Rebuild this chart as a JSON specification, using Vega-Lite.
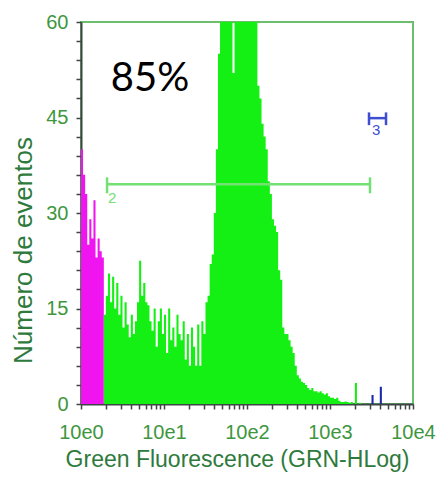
{
  "$schema": "https://vega.github.io/schema/vega-lite/v6.json",
  "width": 332,
  "height": 382,
  "autosize": {"type": "none"},
  "padding": {"left": 81, "top": 22, "right": 25, "bottom": 73},
  "background": "white",
  "config": {
    "view": {"stroke": "#6cbf6c", "strokeWidth": 2},
    "axis": {
      "domain": true,
      "ticks": true,
      "domainColor": "#3f4545",
      "domainWidth": 2,
      "tickColor": "#3f4545",
      "tickWidth": 1.5,
      "tickSize": 5,
      "grid": false,
      "labelFont": "Liberation Sans",
      "labelFontSize": 20,
      "labelColor": "#3e963e",
      "titleFont": "Liberation Sans",
      "titleFontWeight": "normal",
      "titleColor": "#2d7a3c"
    }
  },
  "datasets": {
    "hist": [
      {"x": 1, "n": 40, "g": "M"}, {"x": 1.059, "n": 36, "g": "M"}, {"x": 1.122, "n": 33, "g": "M"}, {"x": 1.189, "n": 25, "g": "M"},
      {"x": 1.259, "n": 29, "g": "M"}, {"x": 1.334, "n": 26, "g": "M"}, {"x": 1.413, "n": 32, "g": "M"}, {"x": 1.496, "n": 23, "g": "M"},
      {"x": 1.585, "n": 26, "g": "M"}, {"x": 1.679, "n": 24, "g": "M"}, {"x": 1.778, "n": 23, "g": "M"}, {"x": 1.884, "n": 0, "g": "M"},
      {"x": 1.884, "n": 14, "g": "G"}, {"x": 1.995, "n": 17, "g": "G"}, {"x": 2.113, "n": 20.5, "g": "G"}, {"x": 2.239, "n": 16, "g": "G"},
      {"x": 2.371, "n": 20, "g": "G"}, {"x": 2.512, "n": 15, "g": "G"}, {"x": 2.661, "n": 19, "g": "G"}, {"x": 2.818, "n": 14, "g": "G"},
      {"x": 2.985, "n": 17, "g": "G"}, {"x": 3.162, "n": 12, "g": "G"}, {"x": 3.35, "n": 16, "g": "G"}, {"x": 3.548, "n": 12.5, "g": "G"},
      {"x": 3.758, "n": 10.5, "g": "G"}, {"x": 3.981, "n": 14, "g": "G"}, {"x": 4.217, "n": 11, "g": "G"}, {"x": 4.467, "n": 13, "g": "G"},
      {"x": 4.732, "n": 16, "g": "G"}, {"x": 5.012, "n": 22.5, "g": "G"}, {"x": 5.309, "n": 17, "g": "G"}, {"x": 5.623, "n": 19, "g": "G"},
      {"x": 5.957, "n": 16, "g": "G"}, {"x": 6.31, "n": 15.5, "g": "G"}, {"x": 6.683, "n": 13, "g": "G"}, {"x": 7.079, "n": 11.5, "g": "G"},
      {"x": 7.499, "n": 15, "g": "G"}, {"x": 7.943, "n": 9, "g": "G"}, {"x": 8.414, "n": 13, "g": "G"}, {"x": 8.913, "n": 15, "g": "G"},
      {"x": 9.441, "n": 11, "g": "G"}, {"x": 10, "n": 14, "g": "G"}, {"x": 10.59, "n": 8, "g": "G"}, {"x": 11.22, "n": 15, "g": "G"},
      {"x": 11.89, "n": 10, "g": "G"}, {"x": 12.59, "n": 12, "g": "G"}, {"x": 13.34, "n": 9, "g": "G"}, {"x": 14.13, "n": 14, "g": "G"},
      {"x": 14.96, "n": 11, "g": "G"}, {"x": 15.85, "n": 10, "g": "G"}, {"x": 16.79, "n": 13, "g": "G"}, {"x": 17.78, "n": 7, "g": "G"},
      {"x": 18.84, "n": 11, "g": "G"}, {"x": 19.95, "n": 6, "g": "G"}, {"x": 21.13, "n": 12, "g": "G"}, {"x": 22.39, "n": 9, "g": "G"},
      {"x": 23.71, "n": 6, "g": "G"}, {"x": 25.12, "n": 12.5, "g": "G"}, {"x": 26.61, "n": 6, "g": "G"}, {"x": 28.18, "n": 13, "g": "G"},
      {"x": 29.85, "n": 11, "g": "G"}, {"x": 31.62, "n": 16, "g": "G"}, {"x": 33.5, "n": 17, "g": "G"}, {"x": 35.48, "n": 22, "g": "G"},
      {"x": 37.58, "n": 23.5, "g": "G"}, {"x": 39.81, "n": 30, "g": "G"}, {"x": 42.17, "n": 40, "g": "G"}, {"x": 44.67, "n": 55, "g": "G"},
      {"x": 47.32, "n": 64, "g": "G"}, {"x": 50.12, "n": 72, "g": "G"}, {"x": 53.09, "n": 75, "g": "G"}, {"x": 56.23, "n": 85, "g": "G"},
      {"x": 59.57, "n": 95, "g": "G"}, {"x": 63.1, "n": 105, "g": "G"}, {"x": 66.83, "n": 52, "g": "G"}, {"x": 70.79, "n": 115, "g": "G"},
      {"x": 74.99, "n": 120, "g": "G"}, {"x": 79.43, "n": 118, "g": "G"}, {"x": 84.14, "n": 112, "g": "G"}, {"x": 89.13, "n": 105, "g": "G"},
      {"x": 94.41, "n": 98, "g": "G"}, {"x": 100, "n": 90, "g": "G"}, {"x": 105.9, "n": 82, "g": "G"}, {"x": 112.2, "n": 75, "g": "G"},
      {"x": 118.9, "n": 70, "g": "G"}, {"x": 125.9, "n": 65, "g": "G"}, {"x": 133.4, "n": 50, "g": "G"}, {"x": 141.3, "n": 48, "g": "G"},
      {"x": 149.6, "n": 44, "g": "G"}, {"x": 158.5, "n": 42, "g": "G"}, {"x": 167.9, "n": 40, "g": "G"}, {"x": 177.8, "n": 35, "g": "G"},
      {"x": 188.4, "n": 33, "g": "G"}, {"x": 199.5, "n": 29, "g": "G"}, {"x": 211.3, "n": 28, "g": "G"}, {"x": 223.9, "n": 27, "g": "G"},
      {"x": 237.1, "n": 21, "g": "G"}, {"x": 251.2, "n": 19.5, "g": "G"}, {"x": 266.1, "n": 12, "g": "G"}, {"x": 281.8, "n": 11, "g": "G"},
      {"x": 298.5, "n": 11, "g": "G"}, {"x": 316.2, "n": 10, "g": "G"}, {"x": 335, "n": 9, "g": "G"}, {"x": 354.8, "n": 8, "g": "G"},
      {"x": 375.8, "n": 6, "g": "G"}, {"x": 398.1, "n": 4.5, "g": "G"}, {"x": 421.7, "n": 4, "g": "G"}, {"x": 446.7, "n": 3.5, "g": "G"},
      {"x": 473.2, "n": 3.3, "g": "G"}, {"x": 501.2, "n": 3, "g": "G"}, {"x": 530.9, "n": 2.5, "g": "G"}, {"x": 562.3, "n": 2.2, "g": "G"},
      {"x": 595.7, "n": 2.5, "g": "G"}, {"x": 631, "n": 2, "g": "G"}, {"x": 668.3, "n": 2, "g": "G"}, {"x": 707.9, "n": 1.8, "g": "G"},
      {"x": 749.9, "n": 2, "g": "G"}, {"x": 794.3, "n": 1.7, "g": "G"}, {"x": 841.4, "n": 1.5, "g": "G"}, {"x": 891.3, "n": 1.7, "g": "G"},
      {"x": 944.1, "n": 1.2, "g": "G"}, {"x": 1000, "n": 1, "g": "G"}, {"x": 1059, "n": 1, "g": "G"}, {"x": 1122, "n": 0.8, "g": "G"},
      {"x": 1189, "n": 1, "g": "G"}, {"x": 1259, "n": 0.5, "g": "G"}, {"x": 1334, "n": 0.3, "g": "G"}, {"x": 1413, "n": 0.3, "g": "G"},
      {"x": 1496, "n": 0.4, "g": "G"}, {"x": 1585, "n": 0.3, "g": "G"}, {"x": 1679, "n": 0.2, "g": "G"}, {"x": 1778, "n": 0.3, "g": "G"},
      {"x": 1884, "n": 0, "g": "G"}, {"x": 1995, "n": 3.3, "g": "G"}, {"x": 2113, "n": 0, "g": "G"}, {"x": 2239, "n": 0.2, "g": "G"},
      {"x": 2371, "n": 0, "g": "G"}, {"x": 10000, "n": 0, "g": "G"},
      {"x": 3162, "n": 1.4, "g": "B"}, {"x": 3350, "n": 0, "g": "B"}, {"x": 3548, "n": 0, "g": "B"}, {"x": 3758, "n": 0, "g": "B"},
      {"x": 3981, "n": 2.7, "g": "B"}, {"x": 4217, "n": 0, "g": "B"}
    ],
    "markers": [
      {"x": 2.06, "x2": 3034, "n": 34.5, "g": "m2"},
      {"x": 2950, "x2": 4730, "n": 44.9, "g": "m3"}
    ],
    "caps": [
      {"x": 2.06, "n": 33.1, "n2": 35.6, "g": "m2"},
      {"x": 3034, "n": 33.1, "n2": 35.6, "g": "m2"},
      {"x": 2950, "n": 43.8, "n2": 45.8, "g": "m3"},
      {"x": 4730, "n": 43.8, "n2": 45.8, "g": "m3"}
    ],
    "mlabels": [
      {"x": 2.11, "n": 31.6, "t": "2", "g": "m2"},
      {"x": 3206, "n": 42.2, "t": "3", "g": "m3"}
    ],
    "notes": [
      {"x": 6.8, "n": 51, "t": "85%"}
    ]
  },
  "encoding": {
    "x": {
      "field": "x",
      "type": "quantitative",
      "title": "Green Fluorescence (GRN-HLog)",
      "scale": {"type": "log", "domain": [1, 10000], "nice": false},
      "axis": {
        "values": [1,2,3,4,5,6,7,8,9,10,20,30,40,50,60,70,80,90,100,200,300,400,500,600,700,800,900,1000,2000,3000,4000,5000,6000,7000,8000,9000,10000],
        "labelExpr": "datum.value == 1 ? '10e0' : datum.value == 10 ? '10e1' : datum.value == 100 ? '10e2' : datum.value == 1000 ? '10e3' : datum.value == 10000 ? '10e4' : ''",
        "labelPadding": 13,
        "labelFlush": false,
        "titleFontSize": 23,
        "titleX": 156,
        "titleY": 44,
        "titleBaseline": "top"
      }
    },
    "y": {
      "field": "n",
      "type": "quantitative",
      "stack": null,
      "title": "Número de eventos",
      "scale": {"domain": [0, 60], "nice": false},
      "axis": {
        "values": [0,3,6,9,12,15,18,21,24,27,30,33,36,39,42,45,48,51,54,57,60],
        "labelExpr": "datum.value % 15 == 0 ? datum.label : ''",
        "labelPadding": 8,
        "labelFlush": false,
        "titleFontSize": 26,
        "titleAngle": 270,
        "titleAlign": "center",
        "titleBaseline": "alphabetic",
        "titleX": -50,
        "titleY": 228
      }
    },
    "color": {
      "field": "g",
      "type": "nominal",
      "scale": {"domain": ["M", "G", "B", "m2", "m3"], "range": ["#f014f0", "#14f014", "#1a2aa8", "#72e072", "#3d4fd0"]},
      "legend": null
    }
  },
  "layer": [
    {
      "data": {"name": "hist"},
      "mark": {"type": "area", "interpolate": "step-after", "clip": true}
    },
    {
      "data": {"name": "markers"},
      "mark": {"type": "rule", "strokeWidth": 2.5},
      "encoding": {"x2": {"field": "x2"}}
    },
    {
      "data": {"name": "caps"},
      "mark": {"type": "rule", "strokeWidth": 2.5},
      "encoding": {"y2": {"field": "n2"}}
    },
    {
      "data": {"name": "mlabels"},
      "mark": {"type": "text", "align": "left", "baseline": "alphabetic", "font": "Liberation Sans", "fontSize": 15},
      "encoding": {"text": {"field": "t"}}
    },
    {
      "data": {"name": "notes"},
      "mark": {"type": "text", "align": "center", "baseline": "middle", "font": "Lato", "fontSize": 40, "color": "black"},
      "encoding": {"text": {"field": "t"}, "color": {"value": "black"}}
    }
  ]
}
